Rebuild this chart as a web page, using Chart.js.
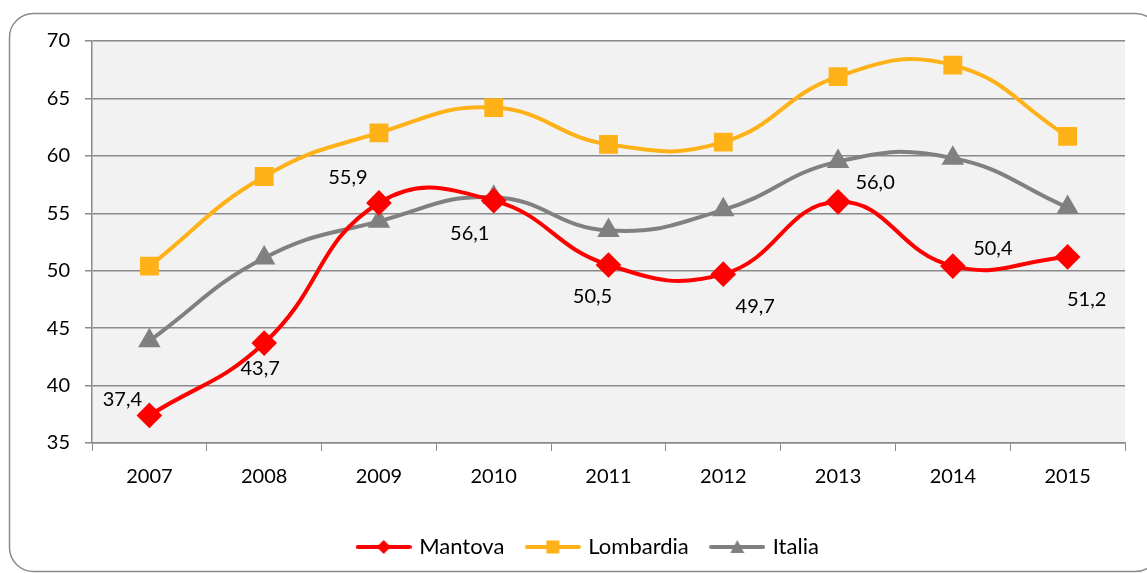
<!DOCTYPE html>
<html>
<head>
<meta charset="utf-8">
<script src="https://cdn.jsdelivr.net/npm/chart.js@4.4.1/dist/chart.umd.min.js"></script>
<style>
  html, body { margin: 0; padding: 0; background: #ffffff; }
  #wrap { width: 1147px; height: 573px; }
</style>
</head>
<body>
<div id="wrap"><canvas id="c" width="1147" height="573"></canvas></div>
<script>
const categories = ['2007', '2008', '2009', '2010', '2011', '2012', '2013', '2014', '2015'];
const mantova   = [37.4, 43.7, 55.9, 56.1, 50.5, 49.7, 56.0, 50.4, 51.2];
const lombardia = [50.4, 58.2, 62.0, 64.2, 61.0, 61.2, 66.9, 67.9, 61.7];
const italia    = [43.9, 51.1, 54.3, 56.4, 53.5, 55.3, 59.5, 59.8, 55.5];
const yTicks = [35, 40, 45, 50, 55, 60, 65, 70];

const RED = '#FF0000', ORANGE = '#FFB118', GRAY = '#808080', GRID = '#8A8A8A';

function legendGlyph(color, shape) {
  const c = document.createElement('canvas');
  c.width = 56; c.height = 18;
  const g = c.getContext('2d');
  g.strokeStyle = color; g.lineWidth = 4; g.lineCap = 'round';
  g.beginPath(); g.moveTo(2, 9); g.lineTo(54, 9); g.stroke();
  g.fillStyle = color;
  g.beginPath();
  if (shape === 'diamond') {
    g.moveTo(28, 2); g.lineTo(35, 9); g.lineTo(28, 16); g.lineTo(21, 9);
  } else if (shape === 'square') {
    g.rect(21.5, 2.5, 13, 13);
  } else {
    g.moveTo(28, 2); g.lineTo(35, 15); g.lineTo(21, 15);
  }
  g.closePath(); g.fill();
  return c;
}

const bgPlugin = {
  id: 'bg',
  afterLayout(chart) {
    // legend box spans from the plot's left region, as in the original
    if (chart.legend) { chart.legend.left += 53; }
  },
  beforeDraw(chart) {
    const ctx = chart.ctx, a = chart.chartArea;
    ctx.save();
    ctx.fillStyle = '#ffffff';
    ctx.fillRect(0, 0, chart.width, chart.height);
    ctx.strokeStyle = '#8C8C8C';
    ctx.lineWidth = 1.5;
    ctx.beginPath();
    ctx.roundRect(9.5, 13.5, 1150, 558, 24);
    ctx.stroke();
    ctx.fillStyle = '#F2F2F2';
    ctx.fillRect(a.left, a.top, a.right - a.left, a.bottom - a.top);
    ctx.restore();
  }
};

const labelPlugin = {
  id: 'mantovaLabels',
  afterDatasetsDraw(chart, args, opts) {
    const meta = chart.getDatasetMeta(0);
    const ds = chart.data.datasets[0].data;
    const ctx = chart.ctx;
    ctx.save();
    ctx.font = '20px Lato';
    ctx.fillStyle = '#000000';
    ctx.textAlign = 'center';
    ctx.textBaseline = 'middle';
    meta.data.forEach((pt, i) => {
      const off = opts.offsets[i];
      ctx.fillText(ds[i].toFixed(1).replace('.', ','), pt.x + off[0], pt.y + off[1]);
    });
    ctx.restore();
  }
};

Chart.defaults.font.family = 'Lato';
Chart.defaults.font.size = 20;
Chart.defaults.color = '#000000';

new Chart(document.getElementById('c'), {
  type: 'line',
  data: {
    labels: categories,
    datasets: [
      { label: 'Mantova', data: mantova, borderColor: RED, backgroundColor: RED,
        pointStyle: 'rectRot', pointRadius: 10, pointHoverRadius: 10, borderWidth: 4 },
      { label: 'Lombardia', data: lombardia, borderColor: ORANGE, backgroundColor: ORANGE,
        pointStyle: 'rect', pointRadius: 10.5, pointHoverRadius: 10.5, borderWidth: 4 },
      { label: 'Italia', data: italia, borderColor: GRAY, backgroundColor: GRAY,
        pointStyle: 'triangle', pointRadius: 9, pointHoverRadius: 9, borderWidth: 4 }
    ]
  },
  options: {
    responsive: false,
    animation: false,
    events: [],
    elements: { line: { tension: 0.45, fill: false } },
    layout: { padding: { left: 0, right: 22, top: 41, bottom: 5 } },
    scales: {
      x: {
        offset: true,
        grid: { display: true, drawOnChartArea: false, drawTicks: true, tickLength: 8, offset: true, color: GRID },
        border: { display: true, color: GRID, width: 1.5 },
        ticks: { padding: 14, color: '#000', font: { size: 20 } },
        afterFit(s) { s.height = 69; }
      },
      y: {
        min: 35, max: 70,
        afterBuildTicks(s) { s.ticks = yTicks.map(v => ({ value: v })); },
        grid: { color: GRID, lineWidth: 1.5, tickLength: 7, drawTicks: true },
        border: { display: true, color: GRID, width: 1.5 },
        ticks: { padding: 15, color: '#000', font: { size: 20 } },
        afterFit(s) { s.width = 92; }
      }
    },
    plugins: {
      tooltip: { enabled: false },
      legend: {
        position: 'bottom',
        labels: {
          usePointStyle: true,
          pointStyleWidth: 49,
          padding: 24,
          color: '#000',
          font: { size: 22 },
          generateLabels(chart) {
            const shapes = ['diamond', 'square', 'triangle'];
            return chart.data.datasets.map((d, i) => ({
              text: d.label,
              pointStyle: legendGlyph(d.borderColor, shapes[i]),
              fillStyle: d.borderColor, strokeStyle: d.borderColor,
              lineWidth: 0, hidden: false, datasetIndex: i, fontColor: '#000'
            }));
          }
        }
      },
      mantovaLabels: {
        offsets: [[-27, -16], [-4, 25], [-31, -25], [-24, 33], [-16, 32], [32, 32], [37, -19], [40, -18], [19, 43]]
      }
    }
  },
  plugins: [bgPlugin, labelPlugin]
});
</script>
</body>
</html>
